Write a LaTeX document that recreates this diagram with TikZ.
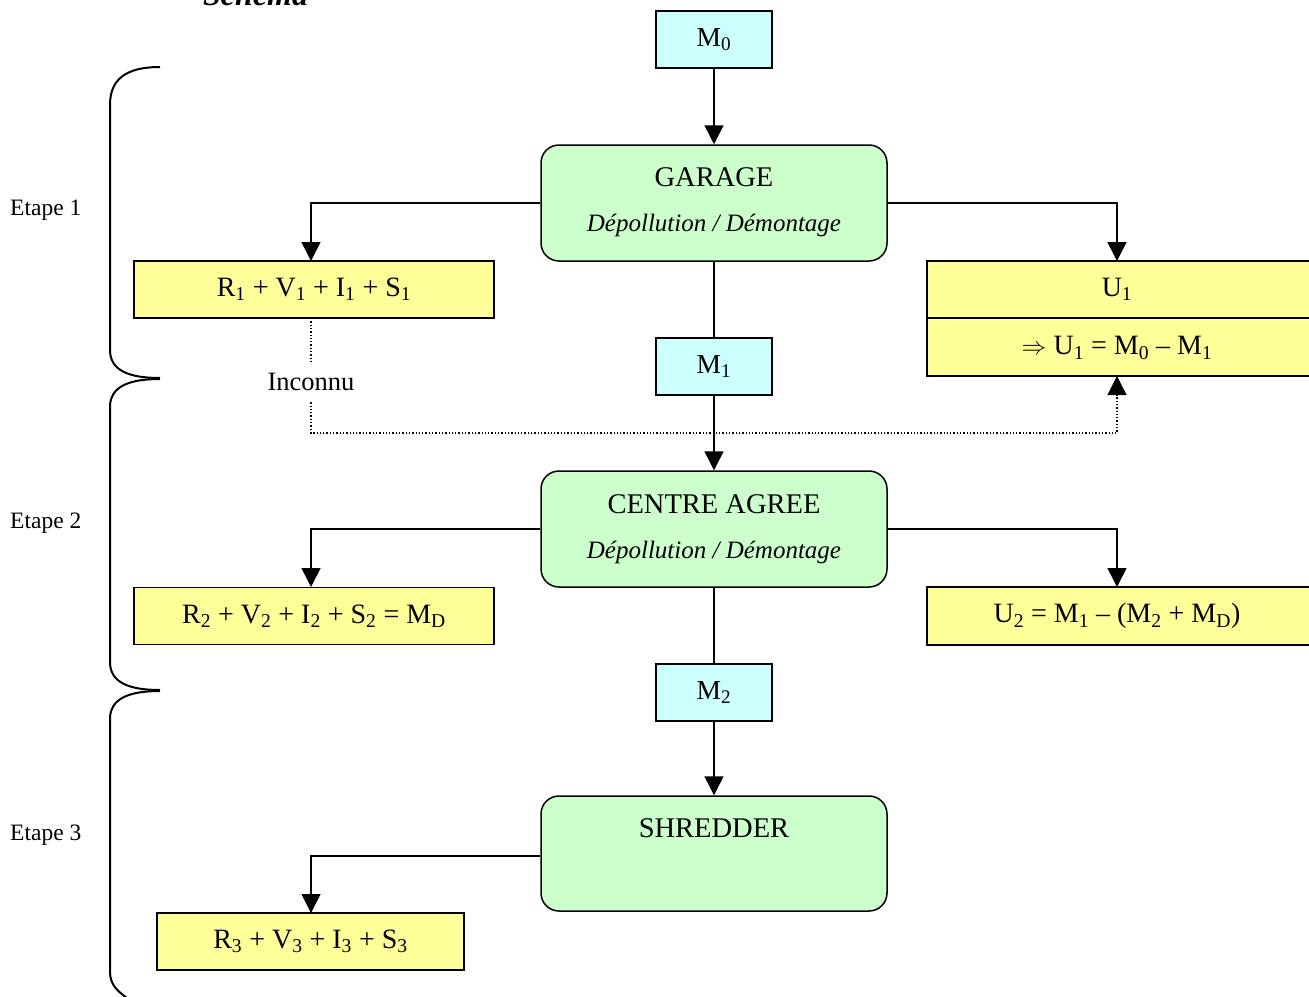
\documentclass[tikz,border=0pt]{standalone}
\usepackage{fontspec}
\setmainfont{Liberation Serif}
\usetikzlibrary{arrows.meta,calc}
\definecolor{cyanbox}{HTML}{CCFFFF}
\definecolor{greenbox}{HTML}{CCFFCC}
\definecolor{yellowbox}{HTML}{FFFF99}
\newcommand{\sbs}[1]{\textsubscript{#1}}
\begin{document}
\begin{tikzpicture}[x=1pt,y=-1pt,
  mbox/.style={draw,line width=1.5pt,fill=cyanbox,minimum width=116pt,minimum height=57pt,inner sep=0pt,font=\fontsize{27.5}{32}\selectfont},
  stagebox/.style={draw,line width=1.5pt,fill=greenbox,rounded corners=18pt,minimum width=346pt,minimum height=116pt,inner sep=0pt},
  resbox/.style={draw,line width=1.5pt,fill=yellowbox,minimum height=57pt,inner sep=0pt,font=\fontsize{28}{33}\selectfont},
  title/.style={inner sep=0pt,font=\fontsize{28.5}{34}\selectfont},
  sub/.style={inner sep=0pt,font=\fontsize{25}{30}\selectfont\itshape},
  txt/.style={inner sep=0pt,font=\fontsize{28}{33}\selectfont},
  etape/.style={inner sep=0pt,anchor=west,font=\fontsize{23.5}{28}\selectfont},
  arr/.style={line width=1.5pt,-{Triangle[width=19pt,length=19pt]}},
  link/.style={line width=1.5pt},
  dotline/.style={line width=1.3pt,dotted},
  brace/.style={line width=2pt}]
\useasboundingbox (0,0) rectangle (1309,996);

% title (partially cut, as in the reference)
\node[anchor=base west,inner sep=0pt,font=\fontsize{32}{38}\selectfont\bfseries\itshape] (schema) at (203,5) {Schéma};

% braces
\draw[brace] (160,67) .. controls (125,67) and (110,80) .. (110,105) -- (110,350) .. controls (110,370) and (128,378) .. (160,378);
\draw[brace] (160,379) .. controls (128,379) and (110,387) .. (110,407) -- (110,662) .. controls (110,682) and (128,690) .. (160,690);
\draw[brace] (160,691) .. controls (128,691) and (110,699) .. (110,719) -- (110,972) .. controls (110,985) and (118,992) .. (130,1000);

\node[etape] (e1) at (10,210) {Etape 1};
\node[etape] (e2) at (10,523) {Etape 2};
\node[etape] (e3) at (10,835) {Etape 3};

% main column
\node[mbox] (m0) at (714,39.5) {M\sbs{0}};
\node[stagebox] (garage) at (714,203) {};
\node[title] (garaget) at (714,177) {GARAGE};
\node[sub] (garages) at (714,225) {Dépollution / Démontage};
\node[mbox] (m1) at (714,366.5) {M\sbs{1}};
\node[stagebox] (centre) at (714,529) {};
\node[title] (centret) at (714,504) {CENTRE AGREE};
\node[sub] (centres) at (714,552) {Dépollution / Démontage};
\node[mbox] (m2) at (714,692.5) {M\sbs{2}};
\node[stagebox,minimum height=115pt] (shred) at (714,853.5) {};
\node[title] (shredt) at (714,828) {SHREDDER};

% results
\node[resbox,minimum width=360pt] (r1) at (314,289.5) {R\sbs{1} + V\sbs{1} + I\sbs{1} + S\sbs{1}};
\node[resbox,minimum width=360pt] (r2) at (314,616) {R\sbs{2} + V\sbs{2} + I\sbs{2} + S\sbs{2} = M\sbs{D}};
\node[resbox,minimum width=307pt] (r3) at (310.5,941.5) {R\sbs{3} + V\sbs{3} + I\sbs{3} + S\sbs{3}};

\draw[line width=1.5pt,fill=yellowbox] (927,261) rectangle (1330,376);
\draw[line width=1.5pt] (927,318) -- (1330,318);
\node[txt] (u1a) at (1117,289.5) {U\sbs{1}};
\node[txt] (u1b) at (1117,348) {$\Rightarrow$ U\sbs{1} = M\sbs{0} – M\sbs{1}};
\draw[line width=1.5pt,fill=yellowbox] (927,587) rectangle (1330,645);
\node[txt] (u2) at (1117,616) {U\sbs{2} = M\sbs{1} – (M\sbs{2} + M\sbs{D})};

\node[txt,font=\fontsize{26.5}{31}\selectfont,minimum height=40pt] (inc) at (311,382) {Inconnu};

% coordinates for connector ends
\coordinate (r1in) at (311,261);
\coordinate (u1in) at (1117,261);
\coordinate (u1out) at (1117,376);
\coordinate (r2in) at (311,587);
\coordinate (u2in) at (1117,587);
\coordinate (r3in) at (311,913);
\coordinate (r1out) at (311,318);
\coordinate (dcorner) at (311,433);

% connectors
\draw[arr] (m0) -- (garage);
\draw[link] (garage) -- (m1);
\draw[arr] (m1) -- (centre);
\draw[link] (centre) -- (m2);
\draw[arr] (m2) -- (shred);
\draw[arr] (garage.west) -| (r1in);
\draw[arr] (garage.east) -| (u1in);
\draw[arr] (centre.west) -| (r2in);
\draw[arr] (centre.east) -| (u2in);
\draw[arr] ($(shred.west)+(0,2.5)$) -| (r3in);

\draw[dotline] (r1out) -- (inc.north);
\draw[dotline] (inc.south) -- (dcorner) -| ($(u1out)+(0,19)$);
\draw[line width=1.3pt,-{Triangle[width=19pt,length=19pt]}] ($(u1out)+(0,19)$) -- (u1out);
\end{tikzpicture}
\end{document}
